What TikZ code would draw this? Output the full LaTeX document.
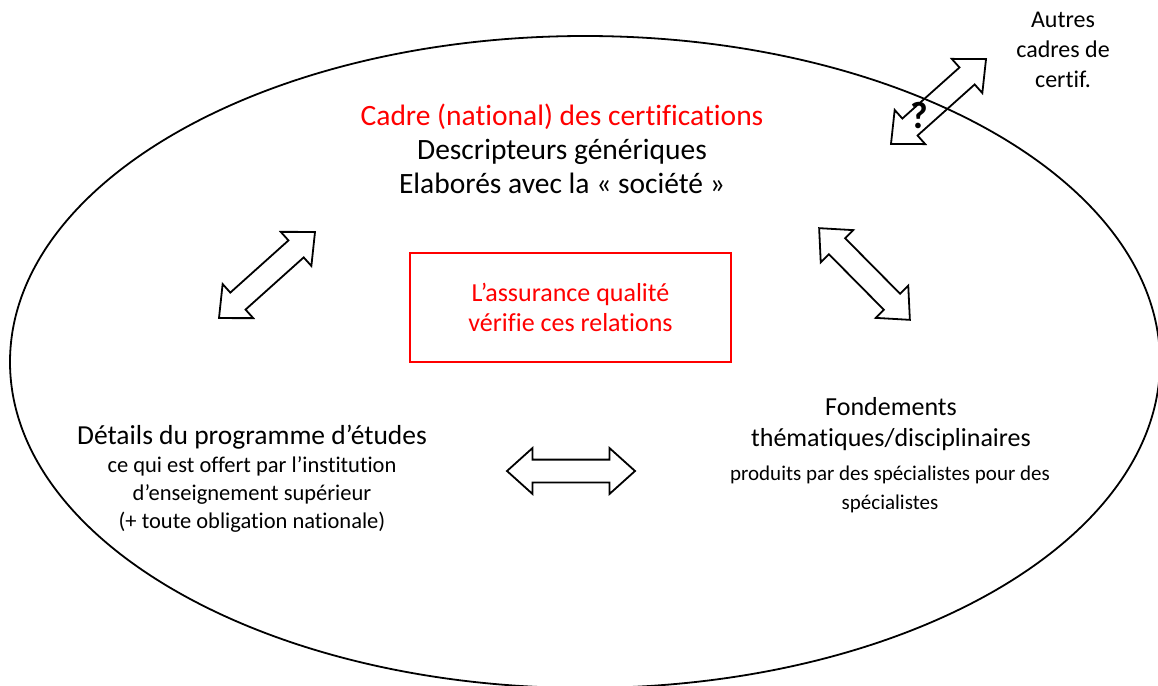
\documentclass[tikz,border=0pt]{standalone}
\usepackage{fontspec}
\setmainfont{Carlito}[Ligatures=NoCommon]
\usetikzlibrary{shapes.arrows}
\tikzset{
  blockarrow/.style={double arrow, draw=black, line width=1.8pt, inner xsep=0pt, inner ysep=10.5pt,
    minimum width=44pt, double arrow head extend=11.5pt, double arrow tip angle=84,
    minimum height=129pt},
  toptxt/.style={align=center, font=\fontsize{29.5}{34}\selectfont},
  bigtxt/.style={align=center, font=\fontsize{27.5}{31}\selectfont},
  smalltxt/.style={align=center, font=\fontsize{22.5}{28}\selectfont},
}
\begin{document}
\begin{tikzpicture}[x=1pt,y=-1pt]
\useasboundingbox (0,0) rectangle (1158,685);
\draw[line width=1.8pt] (585,362) ellipse [x radius=575, y radius=326];
% top block
\node[toptxt] (cadre) at (562,149) {\textcolor{red}{Cadre (national) des certifications}\\Descripteurs génériques\\Elaborés avec la « société »};
% center box
\node[draw=red, line width=1.8pt, minimum width=321pt, minimum height=109pt, text=red, align=center,
  font=\fontsize{26}{30}\selectfont] (aq) at (570.5,307.5) {L’assurance qualité\\vérifie ces relations};
% left block
\node[bigtxt] (prog) at (252,437) {Détails du programme d’études};
\node[smalltxt] (progsub) at (252,494) {ce qui est offert par l’institution\\d’enseignement supérieur\\(+ toute obligation nationale)};
% right block
\node[bigtxt, font=\fontsize{26}{31}\selectfont] (fond) at (891,424) {Fondements\\thématiques/disciplinaires};
\node[smalltxt, font=\fontsize{21}{29}\selectfont] (fondsub) at (890,489) {produits par des spécialistes pour des\\spécialistes};
% other frameworks
\node[align=center, font=\fontsize{24}{30}\selectfont] (autres) at (1063,50) {Autres\\cadres de\\certif.};
% arrows
\node[blockarrow, rotate=41.9] (a1) at (267,275) {};
\node[blockarrow, rotate=-45.3] (a2) at (864.5,274) {};
\node[blockarrow, minimum height=128pt] (a3) at (571,471) {};
\node[blockarrow, rotate=41.8, minimum height=127.5pt] (a4) at (938.5,101.5) {};
\node[font=\fontsize{38}{40}\bfseries\selectfont] (q) at (919,116) {?};
\end{tikzpicture}
\end{document}
